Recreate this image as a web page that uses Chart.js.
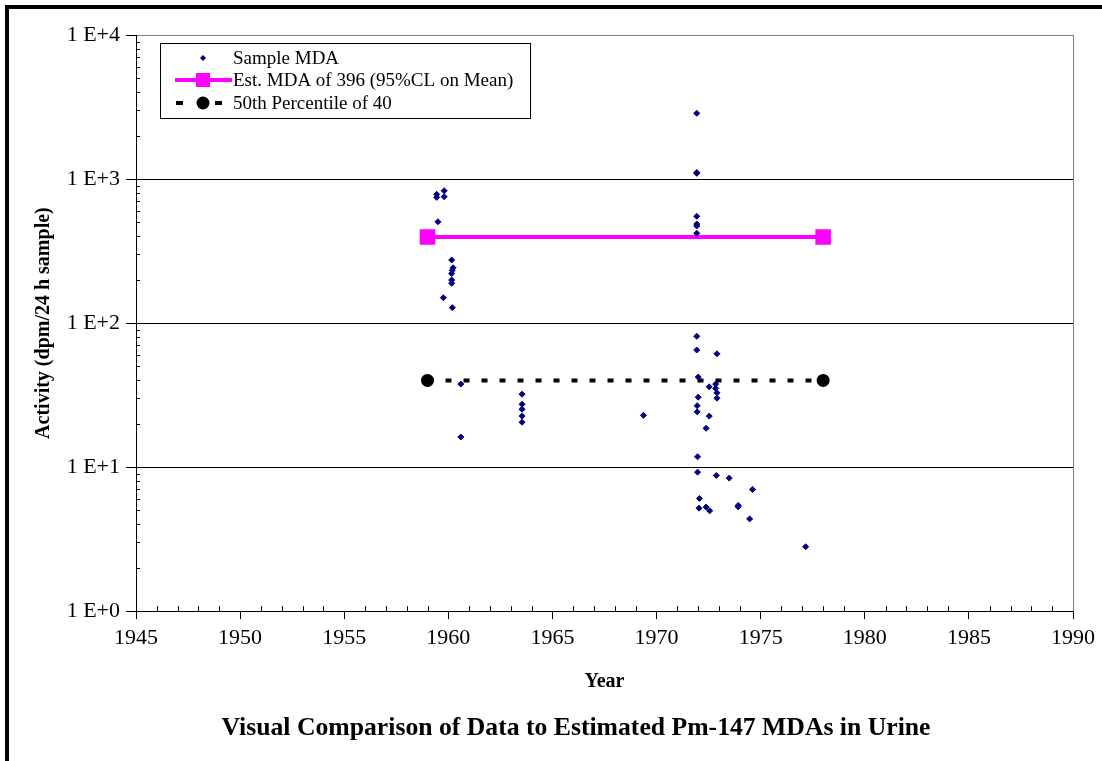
<!DOCTYPE html>
<html>
<head>
<meta charset="utf-8">
<title>Pm-147 MDAs in Urine</title>
<script src="https://cdn.jsdelivr.net/npm/chart.js@4.4.1/dist/chart.umd.min.js"></script>
<style>
    html, body { margin: 0; padding: 0; background: #fff; overflow: hidden; }
    #wrap { position: relative; width: 1102px; height: 761px; }
</style>
</head>
<body>
<div id="wrap"><canvas id="mdaChart"></canvas></div>
<script>
// --- data ---
const sampleYears = [
    1959.44, 1959.44, 1959.80, 1959.80, 1959.50, 1960.16, 1960.23, 1960.19, 1960.16, 1960.16,
    1960.16, 1959.76, 1960.19, 1960.60, 1960.60,
    1963.54, 1963.54, 1963.54, 1963.54, 1963.54,
    1969.37,
    1971.93, 1971.93, 1971.93, 1971.93, 1971.93, 1971.93, 1971.93, 1971.93, 1971.93,
    1972.90, 1972.00, 1972.53, 1972.84, 1972.84, 1972.90, 1972.90, 1972.00, 1971.95, 1971.95,
    1972.53, 1972.38, 1971.97, 1971.97, 1972.87, 1973.49, 1974.61, 1972.06, 1972.04, 1972.38,
    1972.55, 1973.92, 1973.92, 1974.47, 1977.16
];
const sampleValues = [
    783, 746, 829, 754, 505, 274, 242, 233, 221, 199,
    189, 150, 128, 37.7, 16.2,
    32.1, 27.3, 25.2, 22.6, 20.5,
    22.9,
    2860, 1096, 1110, 551, 487, 472, 420, 81, 65,
    61.2, 42.2, 36.1, 37.7, 35.2, 32.8, 30.1, 30.6, 26.7, 24.2,
    22.6, 18.6, 11.8, 9.23, 8.76, 8.39, 7.0, 6.06, 5.19, 5.28,
    4.97, 5.42, 5.30, 4.37, 2.80
];

const lineYears = [1959, 1978];
const mdaValues = [396, 396];
const medianValues = [40, 40];

const xTickValues = [1945, 1950, 1955, 1960, 1965, 1970, 1975, 1980, 1985, 1990];
const yTickValues = [1, 10, 100, 1000, 10000];
const yTickLabels = ['1 E+0', '1 E+1', '1 E+2', '1 E+3', '1 E+4'];

const seriesLabels = ['Sample MDA', 'Est. MDA of 396 (95%CL on Mean)', '50th Percentile of 40'];

const SERIF = "'Liberation Serif', 'Times New Roman', serif";

function pairs(xs, ys) {
    return xs.map((x, i) => ({ x: x, y: ys[i] }));
}

// outer frame (thick black left + top edges of the original picture)
const frame = {
    id: 'frame',
    beforeDraw(chart) {
        const ctx = chart.ctx;
        ctx.save();
        ctx.fillStyle = '#fff';
        ctx.fillRect(0, 0, chart.width, chart.height);
        ctx.fillStyle = '#000';
        ctx.fillRect(5, 5, 4, chart.height - 5);
        ctx.fillRect(5, 5, chart.width - 5, 4);
        ctx.restore();
    }
};

// minor ticks: yearly on x (pointing up), 2..9 per decade on y (pointing right)
const minorTicks = {
    id: 'minorTicks',
    afterDraw(chart) {
        const ctx = chart.ctx;
        const xs = chart.scales.x, ys = chart.scales.y;
        const area = chart.chartArea;
        ctx.save();
        ctx.strokeStyle = '#000';
        ctx.lineWidth = 1;
        ctx.beginPath();
        for (let yr = 1946; yr < 1990; yr++) {
            if (yr % 5 === 0) continue;
            const px = Math.round(xs.getPixelForValue(yr)) + 0.5;
            ctx.moveTo(px, area.bottom);
            ctx.lineTo(px, area.bottom - 5);
        }
        for (let d = 1; d < 10000; d *= 10) {
            for (let k = 2; k <= 9; k++) {
                const py = Math.round(ys.getPixelForValue(d * k)) + 0.5;
                ctx.moveTo(area.left, py);
                ctx.lineTo(area.left + 4, py);
            }
        }
        ctx.stroke();
        ctx.restore();
    }
};

// boxed legend inside the plot, upper left
const boxLegend = {
    id: 'boxLegend',
    afterDraw(chart) {
        const ctx = chart.ctx;
        const area = chart.chartArea;
        const bx = area.left + 24, by = area.top + 8, bw = 370, bh = 75;
        const symX = bx + 43, textX = bx + 73;
        const rows = [by + 15, by + 37, by + 60];
        const ds = chart.data.datasets;

        ctx.save();
        ctx.fillStyle = '#fff';
        ctx.fillRect(bx, by, bw, bh);
        ctx.strokeStyle = '#000';
        ctx.lineWidth = 1;
        ctx.strokeRect(bx + 0.5, by + 0.5, bw, bh);

        // Sample MDA: small navy diamond
        ctx.fillStyle = '#000080';
        ctx.beginPath();
        ctx.moveTo(symX, rows[0] - 3);
        ctx.lineTo(symX + 3, rows[0]);
        ctx.lineTo(symX, rows[0] + 3);
        ctx.lineTo(symX - 3, rows[0]);
        ctx.closePath();
        ctx.fill();

        // Est. MDA: magenta line with square
        ctx.fillStyle = '#ff00ff';
        ctx.fillRect(bx + 15, rows[1] - 2, 57, 4);
        ctx.fillRect(symX - 7, rows[1] - 7, 14, 14);

        // 50th percentile: black dashes with circle
        ctx.fillStyle = '#000';
        ctx.fillRect(bx + 16, rows[2] - 2, 7, 4);
        ctx.fillRect(bx + 55, rows[2] - 2, 7, 4);
        ctx.beginPath();
        ctx.arc(symX, rows[2], 6.5, 0, Math.PI * 2);
        ctx.fill();

        ctx.fillStyle = '#000';
        ctx.font = '19px ' + SERIF;
        ctx.textBaseline = 'middle';
        ctx.textAlign = 'left';
        ds.forEach((d, i) => ctx.fillText(d.label, textX, rows[i] + 1));
        ctx.restore();
    }
};

new Chart(document.getElementById('mdaChart'), {
    type: 'scatter',
    data: {
        datasets: [
            {
                label: seriesLabels[0],
                data: pairs(sampleYears, sampleValues),
                pointStyle: 'rectRot',
                pointRadius: 3,
                pointBackgroundColor: '#000080',
                pointBorderColor: '#000080',
                pointBorderWidth: 1,
                showLine: false,
                order: 0
            },
            {
                label: seriesLabels[1],
                data: pairs(lineYears, mdaValues),
                showLine: true,
                borderColor: '#ff00ff',
                borderWidth: 4,
                pointStyle: 'rect',
                pointRadius: 11,
                pointBackgroundColor: '#ff00ff',
                pointBorderColor: '#ff00ff',
                pointBorderWidth: 0,
                order: 1
            },
            {
                label: seriesLabels[2],
                data: pairs(lineYears, medianValues),
                showLine: true,
                borderColor: '#000',
                borderWidth: 4,
                borderDash: [6, 12],
                borderCapStyle: 'butt',
                pointStyle: 'circle',
                pointRadius: 6.5,
                pointBackgroundColor: '#000',
                pointBorderColor: '#000',
                pointBorderWidth: 0,
                order: 2
            }
        ]
    },
    options: {
        responsive: true,
        maintainAspectRatio: false,
        animation: false,
        events: [],
        // asymmetric padding + spacer axis put the bottom title at the reference's centre (~x 576)
        layout: { padding: { top: 35, right: 10, left: 60, bottom: 0 } },
        plugins: {
            legend: { display: false },
            tooltip: { enabled: false },
            title: {
                display: true,
                position: 'bottom',
                text: 'Visual Comparison of Data to Estimated Pm-147 MDAs in Urine',
                color: '#000',
                font: { family: SERIF, size: 25.7, weight: 'bold', lineHeight: 1.2 },
                padding: { top: 12, bottom: 17 }
            }
        },
        scales: {
            x: {
                type: 'linear',
                min: 1945,
                max: 1990,
                afterBuildTicks: (scale) => { scale.ticks = xTickValues.map(v => ({ value: v })); },
                afterFit: (scale) => { scale.height = 90; },
                ticks: {
                    color: '#000',
                    font: { family: SERIF, size: 22 },
                    padding: 6,
                    maxRotation: 0,
                    callback: (value) => String(value)
                },
                grid: {
                    drawOnChartArea: true,
                    color: (c) => (c.tick && c.tick.value === 1990) ? '#808080' : 'rgba(0,0,0,0)',
                    tickColor: '#000',
                    tickLength: 8
                },
                border: { display: true, color: '#000', width: 1 },
                title: {
                    display: true,
                    text: 'Year',
                    color: '#000',
                    font: { family: SERIF, size: 20, weight: 'bold', lineHeight: 1.2 },
                    padding: { top: 0, bottom: 7 }
                }
            },
            y: {
                type: 'logarithmic',
                min: 1,
                max: 10000,
                afterBuildTicks: (scale) => { scale.ticks = yTickValues.map(v => ({ value: v })); },
                afterFit: (scale) => { scale.width = 76; },
                ticks: {
                    color: '#000',
                    font: { family: SERIF, size: 22 },
                    padding: 6,
                    callback: (value, index) => yTickLabels[index]
                },
                grid: {
                    color: (c) => (c.tick && c.tick.value === 10000) ? '#808080' : '#000',
                    tickColor: '#000',
                    tickLength: 10
                },
                border: { display: true, color: '#000', width: 1 },
                title: {
                    display: true,
                    text: 'Activity (dpm/24 h sample)',
                    color: '#000',
                    font: { family: SERIF, size: 20, weight: 'bold', lineHeight: 1.2 },
                    padding: { top: -28, bottom: 0 }
                }
            },
            // empty spacer on the right, keeps the plot edge at 1990 = x 1073
            spacer: {
                type: 'linear',
                position: 'right',
                display: true,
                afterFit: (scale) => { scale.width = 19; },
                grid: { display: false, drawOnChartArea: false },
                border: { display: false },
                ticks: { display: false }
            }
        }
    },
    plugins: [frame, minorTicks, boxLegend]
});
</script>
</body>
</html>
